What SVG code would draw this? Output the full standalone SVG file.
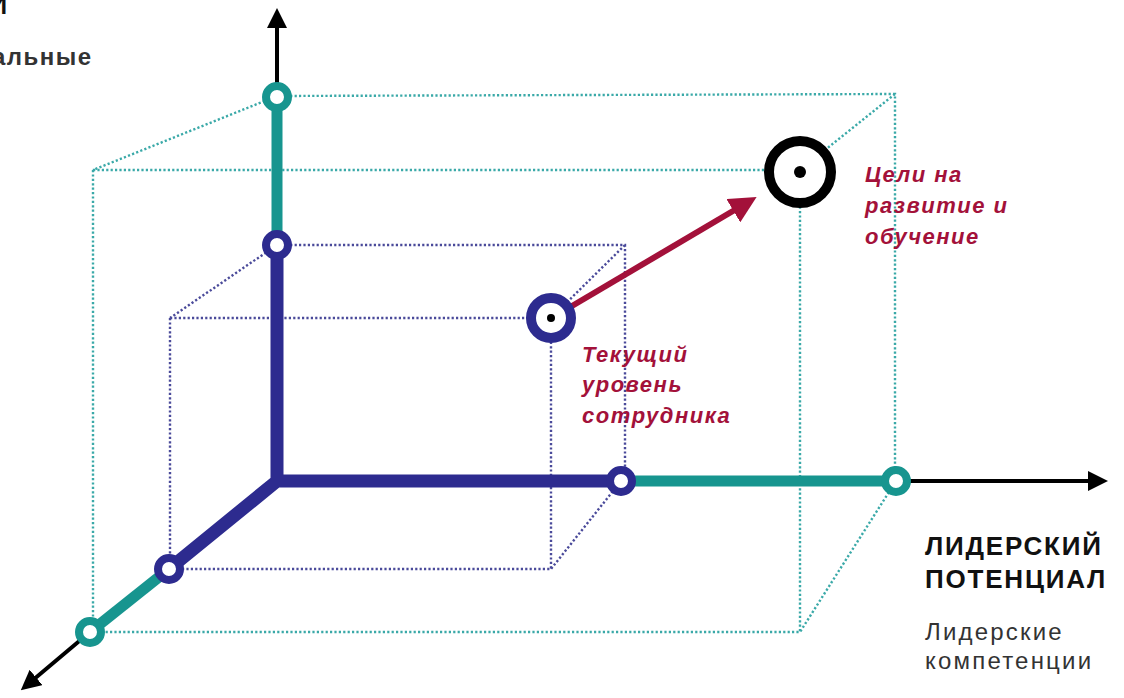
<svg xmlns="http://www.w3.org/2000/svg" width="1124" height="698" viewBox="0 0 1124 698">
  <defs>
    <style>
      .dot-teal { fill: none; stroke: #3aa9a8; stroke-width: 2.4; stroke-dasharray: 2.2 2.2; }
      .dot-blue { fill: none; stroke: #4a4a9a; stroke-width: 2.4; stroke-dasharray: 2.2 2.2; }
      .seg-teal { stroke: #17958f; stroke-width: 11; fill: none; }
      .seg-blue { stroke: #2d2b8f; stroke-width: 13; fill: none; stroke-linecap: round; }
      .axis { stroke: #000; stroke-width: 4; fill: none; }
      .ring-teal { fill: #fff; stroke: #17958f; stroke-width: 8; }
      .ring-blue { fill: #fff; stroke: #2d2b8f; stroke-width: 8; }
      .note { font-family: "Liberation Sans", Arial, sans-serif; font-style: italic; font-weight: bold; font-size: 22px; fill: #a3113a; letter-spacing: 1.5px; }
      .head { font-family: "Liberation Sans", Arial, sans-serif; font-weight: bold; font-size: 26px; fill: #111; letter-spacing: 1.8px; }
      .sub { font-family: "Liberation Sans", Arial, sans-serif; font-size: 24px; fill: #333; letter-spacing: 2.2px; }
    </style>
    <marker id="arrowBlack" viewBox="0 0 10 10" refX="2" refY="5" markerWidth="5" markerHeight="5" orient="auto" markerUnits="strokeWidth">
      <path d="M0,0 L10,5 L0,10 Z" fill="#000"/>
    </marker>
    <marker id="arrowRed" viewBox="0 0 10 10" refX="2" refY="5" markerWidth="4.5" markerHeight="4.5" orient="auto" markerUnits="strokeWidth">
      <path d="M0,0 L10,5 L0,10 Z" fill="#a3113a"/>
    </marker>
  </defs>
  <rect width="1124" height="698" fill="#fff"/>

  <!-- outer (target) box, teal dotted -->
  <g id="outer-box">
    <path class="dot-teal" d="M277,96 L895,94 L895,481"/>
    <path class="dot-teal" d="M93,170 L800,170 L800,632 L90,632 M93,170 L93,632"/>
    <path class="dot-teal" d="M277,96 L93,170 M895,94 L800,170 M896,481 L800,632"/>
  </g>

  <!-- inner (current) box, blue dotted -->
  <g id="inner-box">
    <path class="dot-blue" d="M277,245 L625,245 L625,481"/>
    <path class="dot-blue" d="M170,318 L551,318 L551,569 L169,569 M170,318 L170,569"/>
    <path class="dot-blue" d="M277,245 L170,318 M625,245 L551,318 M621,481 L551,569"/>
  </g>

  <!-- axes and level segments -->
  <g id="connectors">
    <line class="axis" x1="277" y1="90" x2="277" y2="24" marker-end="url(#arrowBlack)"/>
    <line class="axis" x1="896" y1="481" x2="1092" y2="481" marker-end="url(#arrowBlack)"/>
    <line class="axis" x1="90" y1="632" x2="33" y2="680" marker-end="url(#arrowBlack)"/>

    <line class="seg-teal" x1="277" y1="97" x2="277" y2="245"/>
    <line class="seg-teal" x1="621" y1="481" x2="896" y2="481"/>
    <line class="seg-teal" x1="169" y1="569" x2="90" y2="632"/>

    <path class="seg-blue" d="M277,245 L277,481 L621,481 M277,481 L169,569"/>

    <line x1="572" y1="306" x2="738" y2="208" stroke="#a3113a" stroke-width="6" marker-end="url(#arrowRed)"/>
  </g>

  <!-- axis level markers -->
  <g id="node-v-target"><circle class="ring-teal" cx="277" cy="97" r="11"/></g>
  <g id="node-v-current"><circle class="ring-blue" cx="277" cy="245" r="11"/></g>
  <g id="node-h-current"><circle class="ring-blue" cx="621" cy="481" r="11"/></g>
  <g id="node-h-target"><circle class="ring-teal" cx="896" cy="481" r="11"/></g>
  <g id="node-d-current"><circle class="ring-blue" cx="169" cy="569" r="11"/></g>
  <g id="node-d-target"><circle class="ring-teal" cx="90" cy="632" r="11"/></g>

  <!-- current level point -->
  <g id="current-level">
    <circle cx="551" cy="318" r="20" fill="#fff" stroke="#2d2b8f" stroke-width="10"/>
    <circle cx="551" cy="318" r="4" fill="#000"/>
    <text class="note" x="582" y="362">Текущий</text>
    <text class="note" x="582" y="392">уровень</text>
    <text class="note" x="582" y="423">сотрудника</text>
  </g>

  <!-- development goal point -->
  <g id="goal">
    <circle cx="800" cy="172" r="31" fill="#fff" stroke="#000" stroke-width="10"/>
    <circle cx="800" cy="172" r="6" fill="#000"/>
    <text class="note" x="865" y="182">Цели на</text>
    <text class="note" x="865" y="213">развитие и</text>
    <text class="note" x="865" y="244">обучение</text>
  </g>

  <!-- axis labels -->
  <g id="label-x">
    <text class="head" x="925" y="555">ЛИДЕРСКИЙ</text>
    <text class="head" x="925" y="588">ПОТЕНЦИАЛ</text>
    <text class="sub" x="925" y="640">Лидерские</text>
    <text class="sub" x="925" y="669">компетенции</text>
  </g>
  <g id="label-y">
    <text class="head" x="9" y="14" text-anchor="end">И</text>
    <text class="sub" x="-8" y="65" font-weight="bold" fill="#444" style="letter-spacing:1.5px">альные</text>
  </g>
</svg>
